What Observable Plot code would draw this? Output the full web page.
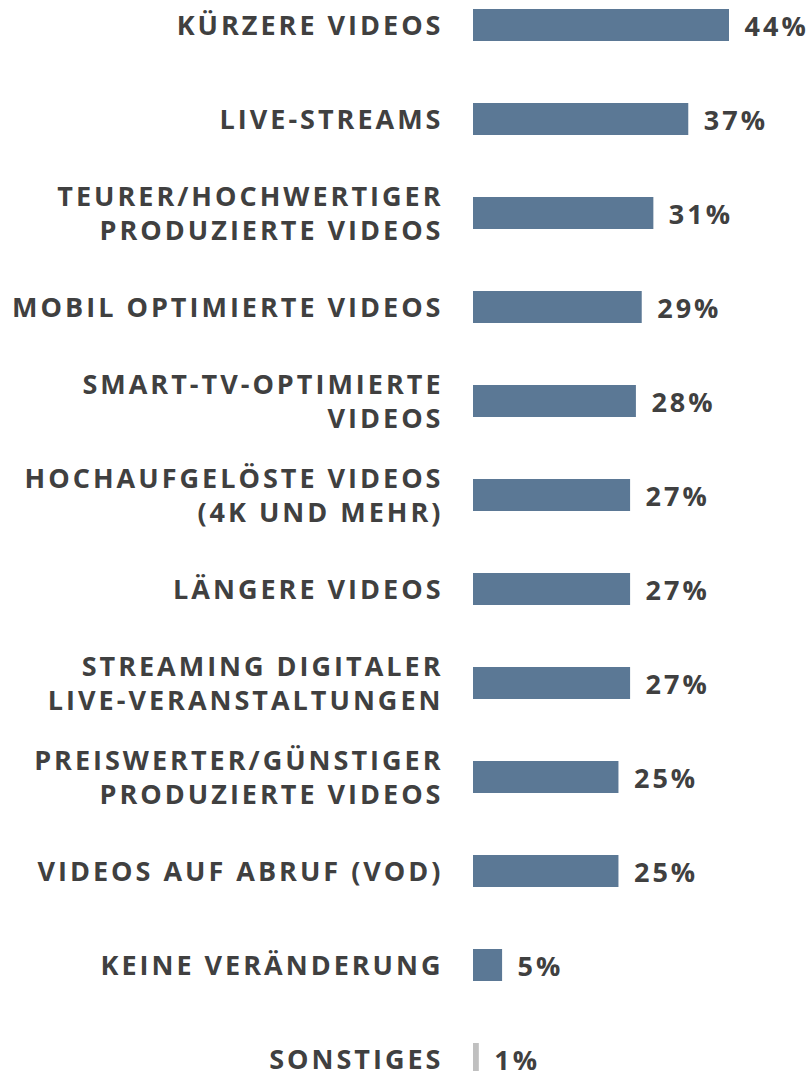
<!DOCTYPE html>
<html>
<head>
<meta charset="utf-8">
<script src="https://cdn.jsdelivr.net/npm/d3@7"></script>
<script src="https://cdn.jsdelivr.net/npm/@observablehq/plot@0.6"></script>
<style>
  html, body { margin: 0; padding: 0; background: #fff; }
  #chart svg { display: block; }
</style>
</head>
<body>
<div id="chart"></div>
<script>
const labels = [
  "KÜRZERE VIDEOS",
  "LIVE-STREAMS",
  "TEURER/HOCHWERTIGER\nPRODUZIERTE VIDEOS",
  "MOBIL OPTIMIERTE VIDEOS",
  "SMART-TV-OPTIMIERTE\nVIDEOS",
  "HOCHAUFGELÖSTE VIDEOS\n(4K UND MEHR)",
  "LÄNGERE VIDEOS",
  "STREAMING DIGITALER\nLIVE-VERANSTALTUNGEN",
  "PREISWERTER/GÜNSTIGER\nPRODUZIERTE VIDEOS",
  "VIDEOS AUF ABRUF (VOD)",
  "KEINE VERÄNDERUNG",
  "SONSTIGES"
];
const values = [44, 37, 31, 29, 28, 27, 27, 27, 25, 25, 5, 1];
const otherLabel = "SONSTIGES";

const data = labels.map((label, i) => ({label, value: values[i]}));

const blue = "#5b7895";
const grey = "#c0c0c0";
const textColor = "#404040";

const chart = Plot.plot({
  width: 810,
  height: 1071,
  marginLeft: 473,
  marginRight: 81,
  marginTop: 0,
  marginBottom: 0,
  style: {fontFamily: "'Open Sans', sans-serif", letterSpacing: "3px", background: "#fff"},
  x: {domain: [0, 44], axis: null},
  y: {domain: labels, range: [9, 1075], paddingInner: 0.66, paddingOuter: 0, axis: null},
  marks: [
    Plot.barX(data, {
      x: "value",
      y: "label",
      fill: d => d.label === otherLabel ? grey : blue
    }),
    Plot.text(data, {
      x: 0,
      y: "label",
      text: "label",
      textAnchor: "end",
      dx: -30,
      dy: -1,
      fontSize: 27,
      fontWeight: 700,
      lineHeight: 1.26,
      fill: textColor
    }),
    Plot.text(data, {
      x: "value",
      y: "label",
      text: d => d.value + "%",
      textAnchor: "start",
      dx: 15,
      dy: 2,
      fontSize: 27,
      fontWeight: 700,
      fill: textColor
    })
  ]
});
document.getElementById("chart").appendChild(chart);
</script>
</body>
</html>
